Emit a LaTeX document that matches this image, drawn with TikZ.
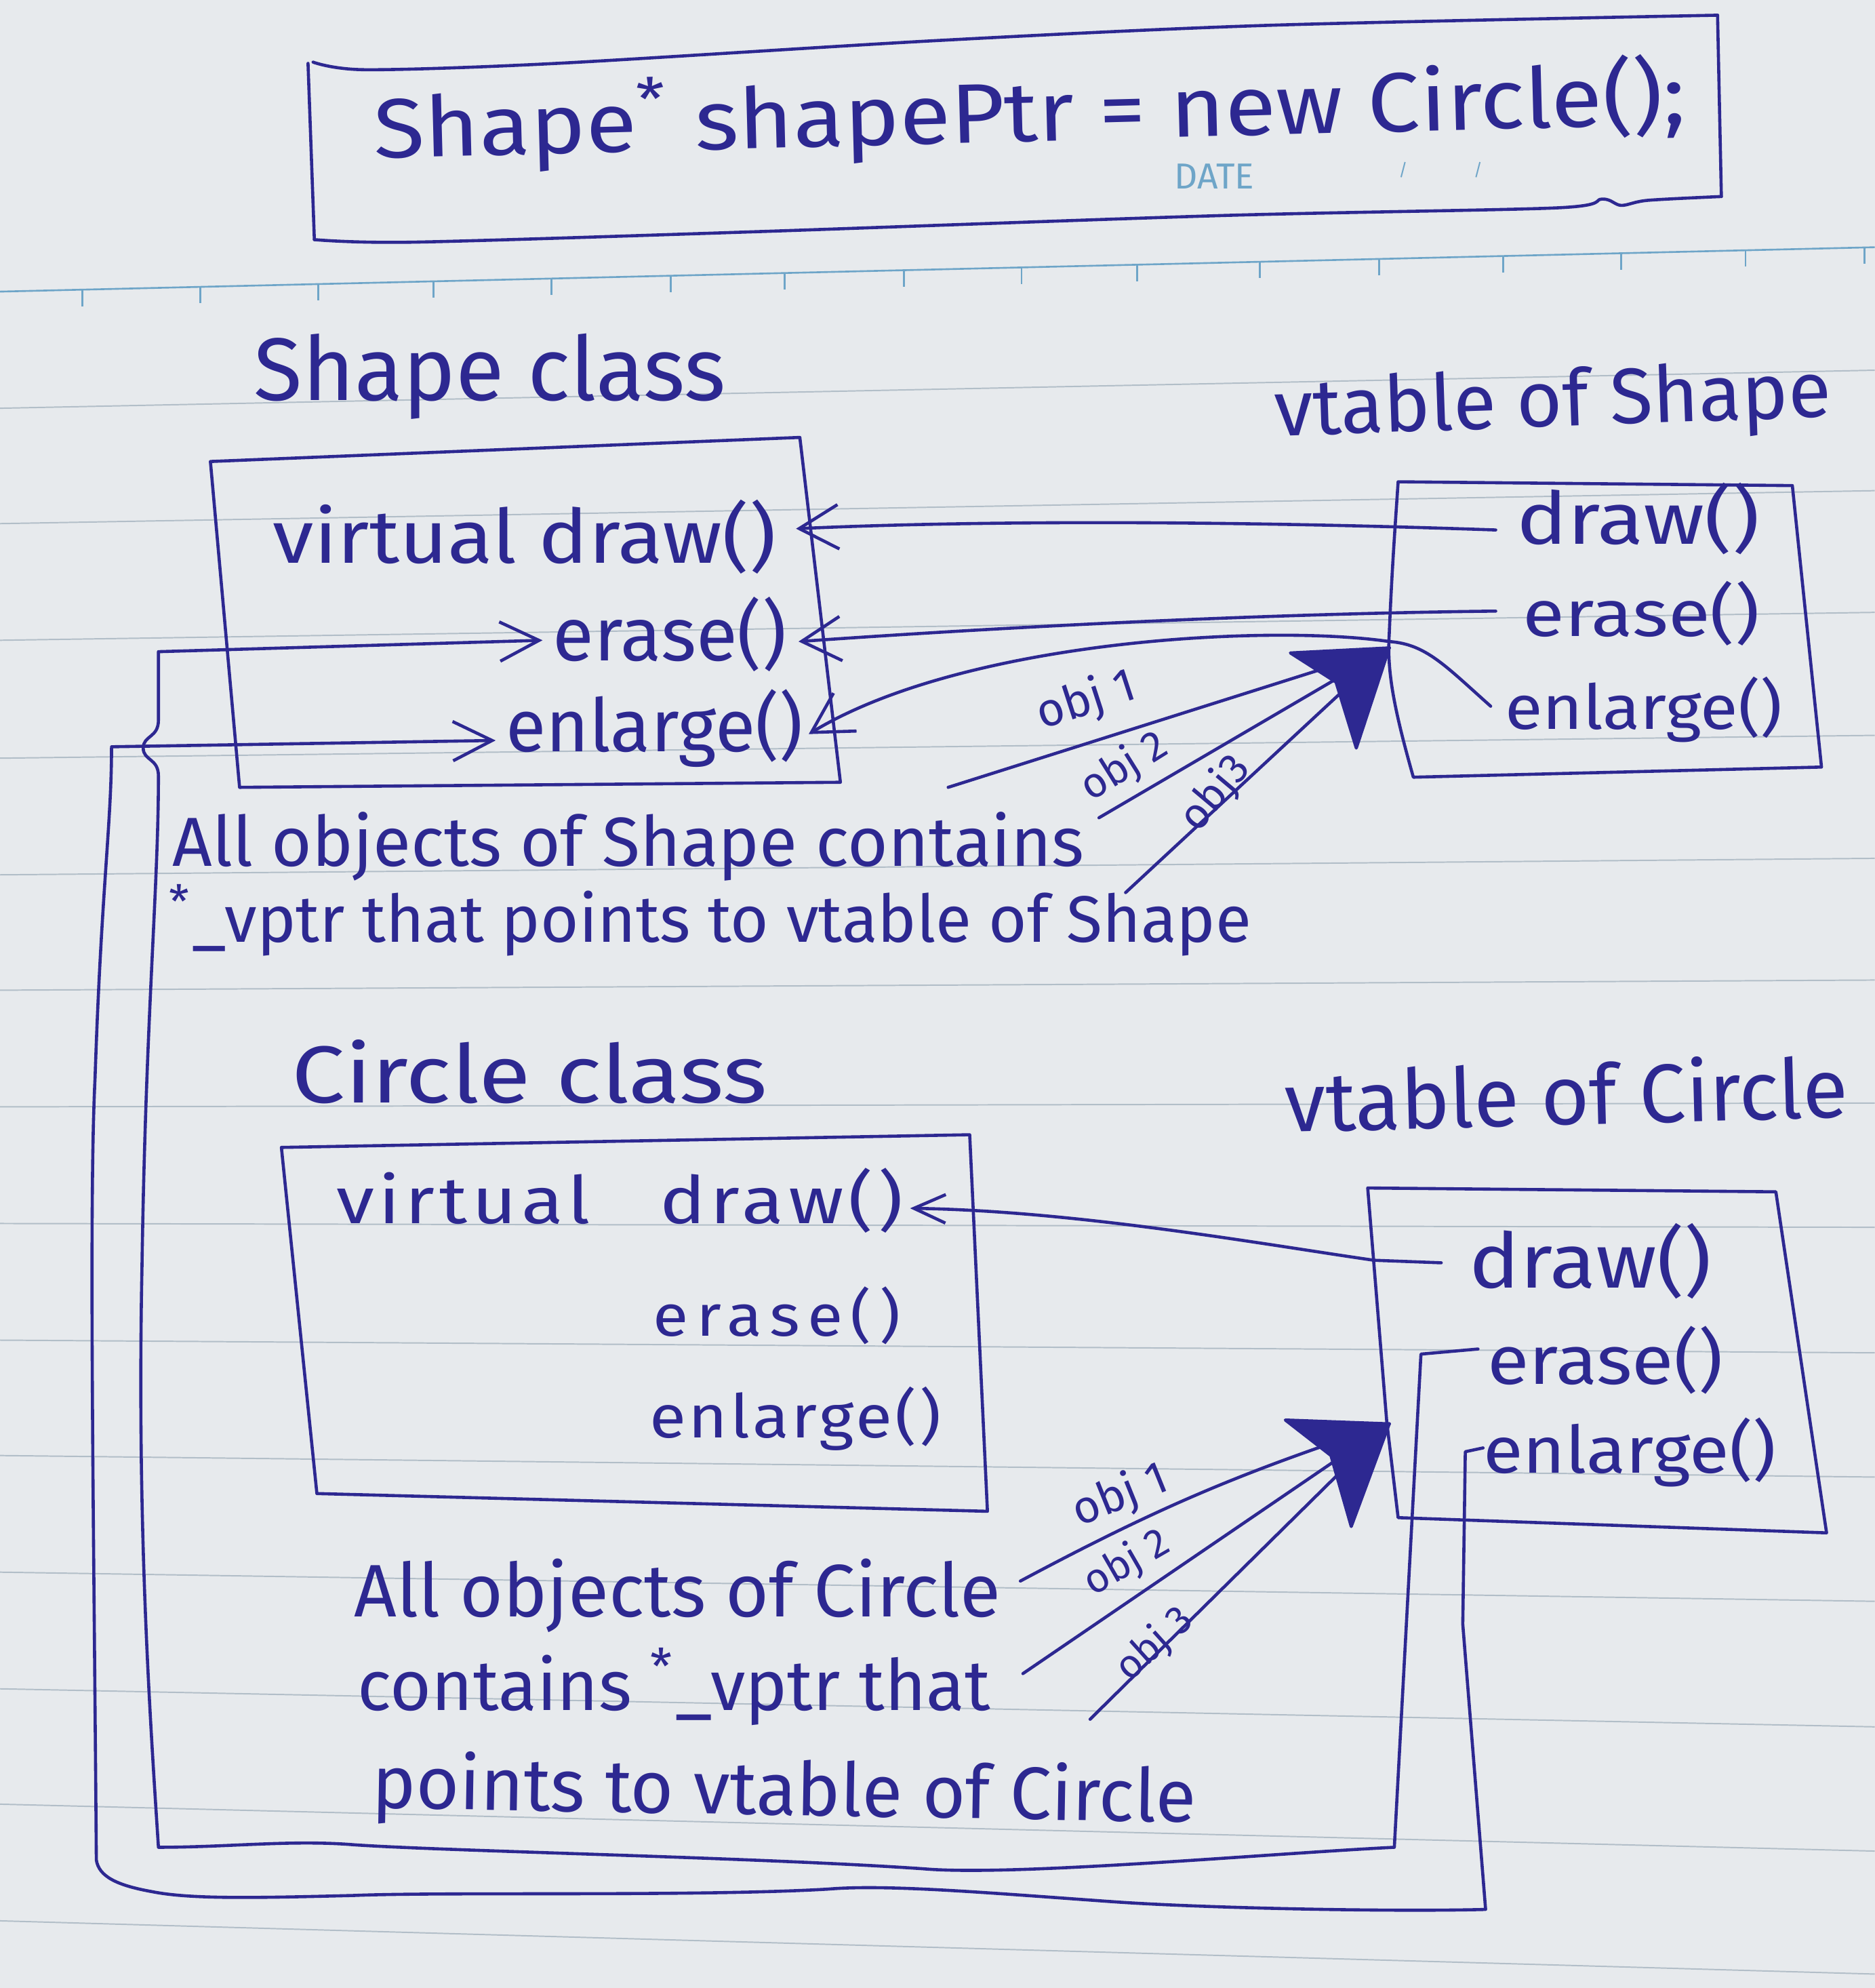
\documentclass[tikz,border=0pt]{standalone}
\usepackage{fontspec}
\setmainfont{Fira Sans}
\usetikzlibrary{arrows.meta}
\definecolor{ink}{RGB}{45,40,145}
\definecolor{paper}{RGB}{231,234,237}
\definecolor{ruleline}{RGB}{178,190,200}
\definecolor{headrule}{RGB}{110,165,200}
\newlength\pu \setlength\pu{0.02cm}
\newcommand\hw[2]{\resizebox{#1\pu}{!}{#2}}
\newcommand\hws[3]{\scalebox{1}[#2]{\resizebox{#1\pu}{!}{#3}}}
\newcommand\spaced[2]{{\addfontfeature{LetterSpace=#1}#2}}
\tikzset{
  txt/.style={inner sep=0pt,text=ink,anchor=base west},
  lbl/.style={inner sep=0pt,text=ink},
  pen/.style={draw=ink,line width=1.4pt,line cap=round,line join=round},
  barbbig/.style={-{Straight Barb[length=0.62cm,width=0.7cm]}},
  barbmid/.style={-{Straight Barb[length=0.62cm,width=0.62cm]}},
  barbsmall/.style={-{Straight Barb[length=0.5cm,width=0.45cm]}},
  headfill/.style={fill=ink,draw=ink,line width=1.4pt,line join=round}
}
\begin{document}
\begin{tikzpicture}[x=0.02cm,y=-0.02cm]
% paper
\path[use as bounding box] (0,0) rectangle (1479,1568);
\fill[paper] (0,0) rectangle (1479,1568);
\foreach \l/\r in {322/292,413/387,505/483,598/580,690/677,781/773,873/870,965/968,1057/1067,1148/1165,1240/1263,1332/1362,1423/1460,1515/1557}
  \draw[ruleline,line width=0.6pt] (0,\l) -- (1479,\r);
\draw[headrule,line width=0.8pt] (0,230) -- (1479,195);
\foreach \t in {65,158,251,342,435,529,619,713,806,897,994,1088,1186,1279,1377,1471}
  \draw[headrule,line width=0.8pt] (\t,{230-0.02366*\t}) -- ++(0,13);
\node[lbl,text=headrule] (date) at (958,139) {\hw{63}{DATE}};
\node[lbl,text=headrule] (dsl1) at (1107,134) {\hw{7}{/}};
\node[lbl,text=headrule] (dsl2) at (1166,134) {\hw{7}{/}};

% title box
\draw[pen] plot[smooth] coordinates {(247,49) (289,55) (439,50) (739,32) (1000,20) (1355,12)};
\draw[pen] (1355,12) -- (1358,155);
\draw[pen] plot[smooth] coordinates {(1358,155) (1300,158) (1279,162) (1264,157) (1227,164) (964,170) (589,183) (326,191) (248,189)};
\draw[pen] (248,189) -- (243,50);
\node[txt,rotate=1.5] (title) at (295,125) {\hws{1035}{0.9}{Shape\textsuperscript{*} shapePtr = new Circle();}};

% Shape class
\node[txt] (shapeLbl) at (200,316) {\hw{372}{Shape class}};
\draw[pen] (166,364) -- (631,345) -- (663,617) -- (189,621) -- cycle;
\node[txt] (sDraw) at (215,444) {\hws{397}{0.9}{virtual draw()}};
\node[txt] (sErase) at (436,521) {\hw{184}{erase()}};
\node[txt] (sEnl) at (399,593) {\hw{234}{enlarge()}};

% vtable of Shape
\node[txt,rotate=2] (vtsLbl) at (1006,344) {\hw{439}{vtable of Shape}};
\draw[pen] (1103,380) -- (1414,383) -- (1437,605) -- (1115,613) .. controls (1100,560) and (1094,530) .. (1096,500) .. controls (1098,450) and (1101,410) .. (1103,380) -- cycle;
\node[txt] (vsDraw) at (1196,429) {\hws{192}{0.85}{draw()}};
\node[txt] (vsErase) at (1201,502) {\hws{187}{0.85}{erase()}};
\node[txt] (vsEnl) at (1187,575) {\hws{219}{0.9}{enlarge()}};

% Shape notes
\node[txt] (shpNote1) at (136,683) {\hw{719}{All objects of Shape contains}};
\node[txt] (shpNote2) at (133,743) {\hw{854}{\textsuperscript{*}\_vptr that points to vtable of Shape}};

% Circle class
\node[txt] (circLbl) at (230,870) {\hws{375}{0.85}{Circle class}};
\draw[pen] (222,905) -- (765,895) -- (779,1192) -- (250,1178) -- cycle;
\node[txt] (cDraw) at (265,965) {\hws{447}{0.85}{\spaced{6}{virtual}\hspace{0.9em}\spaced{6}{draw()}}};
\node[txt] (cErase) at (515,1054) {\hws{195}{0.9}{\spaced{12}{erase()}}};
\node[txt] (cEnl) at (512,1134) {\hws{230}{0.9}{\spaced{4}{enlarge()}}};

% vtable of Circle
\node[txt,rotate=1.5] (vtcLbl) at (1014,893) {\hw{444}{vtable of Circle}};
\draw[pen] (1079,937) -- (1401,940) -- (1441,1209) -- (1103,1197) -- (1094,1121) -- cycle;
\node[txt] (vcDraw) at (1159,1016) {\hws{191}{0.9}{draw()}};
\node[txt] (vcErase) at (1173,1092) {\hws{186}{0.9}{erase()}};
\node[txt] (vcEnl) at (1170,1162) {\hws{231}{0.9}{enlarge()}};

% Circle notes
\node[txt] (cn1) at (279,1275) {\hw{510}{All objects of Circle}};
\node[txt] (cn2) at (282,1349) {\hw{499}{contains \textsuperscript{*}\_vptr that}};
\node[txt,rotate=-1] (cn3) at (293,1426) {\hw{650}{points to vtable of Circle}};

% connector end points
\coordinate (vsDrawIn) at (1180,418);
\coordinate (sDrawTip) at (628,417);
\coordinate (vsEraseIn) at (1180,482);
\coordinate (sEraseTip) at (630,506);
\coordinate (vsEnlIn) at (1176,557);
\coordinate (sEnlTip) at (638,579);
\coordinate (vcDrawIn) at (1137,996);
\coordinate (cDrawTip) at (718,953);
\coordinate (vcEraseIn) at (1166,1064);
\coordinate (sEraseArr) at (428,505);
\coordinate (vcEnlIn) at (1170,1142);
\coordinate (sEnlArr) at (391,584);

% vtable of Shape -> Shape class
\draw[pen,barbbig] (vsDrawIn) .. controls (950,410) and (760,411) .. (sDrawTip);
\draw[pen,barbbig] (vsEraseIn) .. controls (1000,484) and (800,494) .. (sEraseTip);
\draw[pen,barbbig] (vsEnlIn) .. controls (1140,525) and (1125,508) .. (1096,506) .. controls (1000,492) and (760,505) .. (sEnlTip);

% vtable of Circle -> Circle class
\draw[pen,barbsmall] (vcDrawIn) -- (1084,994) .. controls (1000,982) and (850,955) .. (cDrawTip);

% vtable of Circle -> Shape class (inner loop, erase)
\draw[pen,barbmid] (vcEraseIn) -- (1121,1068) -- (1100,1457) .. controls (1000,1462) and (800,1480) .. (729,1474) .. controls (600,1465) and (350,1460) .. (279,1455) .. controls (230,1451) and (180,1457) .. (125,1457) .. controls (118,1350) and (108,1200) .. (112,1000) .. controls (115,800) and (125,700) .. (125,612) .. controls (125,598) and (113,600) .. (113,590) .. controls (113,580) and (125,582) .. (125,568) -- (125,514) -- (sEraseArr);

% vtable of Circle -> Shape class (outer loop, enlarge)
\draw[pen,barbmid] (vcEnlIn) -- (1156,1145) -- (1154,1281) -- (1172,1506) .. controls (1100,1508) and (950,1505) .. (879,1500) .. controls (780,1493) and (700,1486) .. (653,1490) .. controls (550,1496) and (350,1492) .. (279,1495) .. controls (200,1497) and (150,1498) .. (120,1492) .. controls (92,1487) and (78,1480) .. (76,1467) .. controls (74,1200) and (70,950) .. (75,850) .. controls (80,700) and (88,650) .. (88,589) -- (sEnlArr);

% objects of Shape -> vtable of Shape
\coordinate (sTip) at (1096,511);
\coordinate (so1s) at (748,621);
\coordinate (so2s) at (867,645);
\coordinate (so3s) at (888,704);
\draw[pen] (so1s) -- (sTip);
\draw[pen] (so2s) -- (sTip);
\draw[pen] (so3s) -- (sTip);
\filldraw[headfill] (sTip) -- (1018,515) -- (1054,538) -- (1070,590) -- cycle;
\node[lbl,rotate=18] (so1) at (857,553) {\hw{80}{obj 1}};
\node[lbl,rotate=32] (so2) at (887,605) {\hw{74}{obj 2}};
\node[lbl,rotate=50] (so3) at (959,626) {\hw{66}{obj3}};

% objects of Circle -> vtable of Circle
\coordinate (cTip) at (1096,1123);
\coordinate (co1s) at (805,1247);
\coordinate (co2s) at (807,1320);
\coordinate (co3s) at (860,1356);
\draw[pen] (co1s) to[bend left=5] (cTip);
\draw[pen] (co2s) -- (cTip);
\draw[pen] (co3s) -- (cTip);
\filldraw[headfill] (cTip) -- (1014,1120) -- (1050,1148) -- (1066,1204) -- cycle;
\node[lbl,rotate=22] (co1) at (884,1180) {\hw{78}{obj 1}};
\node[lbl,rotate=30] (co2) at (889,1233) {\hw{72}{obj 2}};
\node[lbl,rotate=42] (co3) at (911,1297) {\hw{70}{obj 3}};
\end{tikzpicture}
\end{document}
